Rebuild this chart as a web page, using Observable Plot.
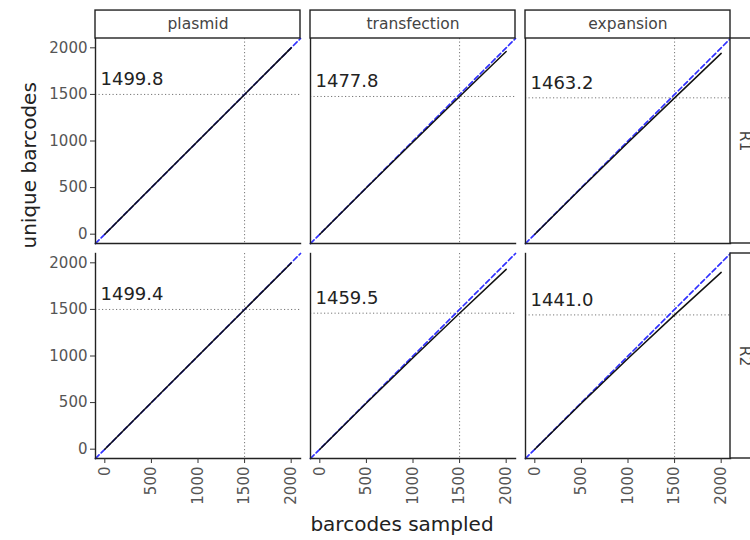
<!DOCTYPE html>
<html>
<head>
<meta charset="utf-8">
<script src="https://cdn.jsdelivr.net/npm/d3@7"></script>
<script src="https://cdn.jsdelivr.net/npm/@observablehq/plot@0.6"></script>
<style>
  html, body { margin: 0; padding: 0; background: white; overflow: hidden; }
</style>
</head>
<body>
<div id="chart"></div>
<script>
// ---- data ----
const columns = ["plasmid", "transfection", "expansion"];
const rows = ["R1", "R2"];
const sampled = [0, 500, 1000, 1500, 2000];
const uniqueR1Plasmid      = [0, 500.0, 999.9, 1499.8, 1999.6];
const uniqueR1Transfection = [0, 497.5, 990.0, 1477.8, 1960.0];
const uniqueR1Expansion    = [0, 496.0, 984.0, 1463.2, 1940.0];
const uniqueR2Plasmid      = [0, 500.0, 999.8, 1499.4, 1998.9];
const uniqueR2Transfection = [0, 495.5, 982.0, 1459.5, 1930.0];
const uniqueR2Expansion    = [0, 493.5, 974.0, 1441.0, 1897.0];
const depth = 1500;
const xTicks = [0, 500, 1000, 1500, 2000];
const yTicks = [0, 500, 1000, 1500, 2000];
const axisDomain = [-100, 2100];

const seriesByRow = {
  R1: [uniqueR1Plasmid, uniqueR1Transfection, uniqueR1Expansion],
  R2: [uniqueR2Plasmid, uniqueR2Transfection, uniqueR2Expansion]
};

const curves = [];
const labels = [];
for (const row of rows) {
  columns.forEach((col, j) => {
    const vals = seriesByRow[row][j];
    sampled.forEach((s, i) => curves.push({row, col, sampled: s, unique: vals[i]}));
    labels.push({row, col, depth, value: vals[sampled.indexOf(depth)]});
  });
}

const stripH = 300; // strip thickness in axis units (~28px)

const chart = Plot.plot({
  width: 750,
  height: 540,
  marginLeft: 95,
  marginRight: 19,
  marginTop: 38,
  marginBottom: 82,
  style: {fontFamily: "DejaVu Sans", fontSize: "15px", color: "#4d4d4d", background: "white"},
  fx: {domain: columns, paddingInner: 10 / 215.5, paddingOuter: 0, axis: null},
  fy: {domain: rows, paddingInner: 10 / 215, paddingOuter: 0, axis: null},
  x: {domain: axisDomain},
  y: {domain: axisDomain},
  marks: [
    // dotted guides at sampling depth
    Plot.ruleX(labels, {fx: "col", fy: "row", x: "depth", stroke: "#777", strokeWidth: 1, strokeDasharray: "1.2,2.3"}),
    Plot.ruleY(labels, {fx: "col", fy: "row", y: "value", stroke: "#777", strokeWidth: 1, strokeDasharray: "1.2,2.3"}),
    // y = x reference
    Plot.line(axisDomain, {x: d => d, y: d => d, stroke: "#3030ff", strokeWidth: 1.7, strokeDasharray: "5,3"}),
    // rarefaction curves
    Plot.line(curves, {fx: "col", fy: "row", x: "sampled", y: "unique", z: d => d.row + d.col, stroke: "#111", strokeWidth: 1.5}),
    // value labels
    Plot.text(labels, {fx: "col", fy: "row", y: "value", frameAnchor: "left", dx: 5, dy: -15, textAnchor: "start",
      text: d => d.value.toFixed(1), fontSize: 18, fill: "#222"}),
    // axis lines
    Plot.frame({anchor: "left", stroke: "#222", strokeWidth: 1.4}),
    Plot.frame({anchor: "bottom", stroke: "#222", strokeWidth: 1.4}),
    // axes
    Plot.axisY({ticks: yTicks, tickFormat: "d", tickSize: 5, tickPadding: 3, label: null, stroke: "#333", fill: "#555"}),
    Plot.axisX({ticks: xTicks, tickFormat: "d", tickSize: 5, tickPadding: 3, tickRotate: -90, label: null, stroke: "#333", fill: "#555"}),
    // column strips
    Plot.rect(columns, {fx: d => d, fy: () => rows[0], x1: axisDomain[0], x2: axisDomain[1],
      y1: axisDomain[1], y2: axisDomain[1] + stripH, fill: "white", stroke: "#222", strokeWidth: 1.4}),
    Plot.text(columns, {fx: d => d, fy: () => rows[0], x: (axisDomain[0] + axisDomain[1]) / 2,
      y: axisDomain[1] + stripH / 2, text: d => d, fontSize: 15.5, fill: "#444"}),
    // row strips (cut off at the right edge, as in the reference)
    Plot.rect(rows, {fy: d => d, fx: () => columns[columns.length - 1], x1: axisDomain[1], x2: axisDomain[1] + stripH,
      y1: axisDomain[0], y2: axisDomain[1], fill: "white", stroke: "#222", strokeWidth: 1.4}),
    Plot.text(rows, {fy: d => d, fx: () => columns[columns.length - 1], x: axisDomain[1] + stripH / 2,
      y: (axisDomain[0] + axisDomain[1]) / 2, text: d => d, rotate: 90, fontSize: 15.5, fill: "#444"}),
    // axis titles
    Plot.text(["unique barcodes"], {facet: "super", frameAnchor: "left", dx: -66, rotate: -90, fontSize: 20, fill: "#222"}),
    Plot.text(["barcodes sampled"], {facet: "super", frameAnchor: "bottom", dx: -11, dy: 72, fontSize: 20, fill: "#222"})
  ]
});
document.getElementById("chart").appendChild(chart);
</script>
</body>
</html>
